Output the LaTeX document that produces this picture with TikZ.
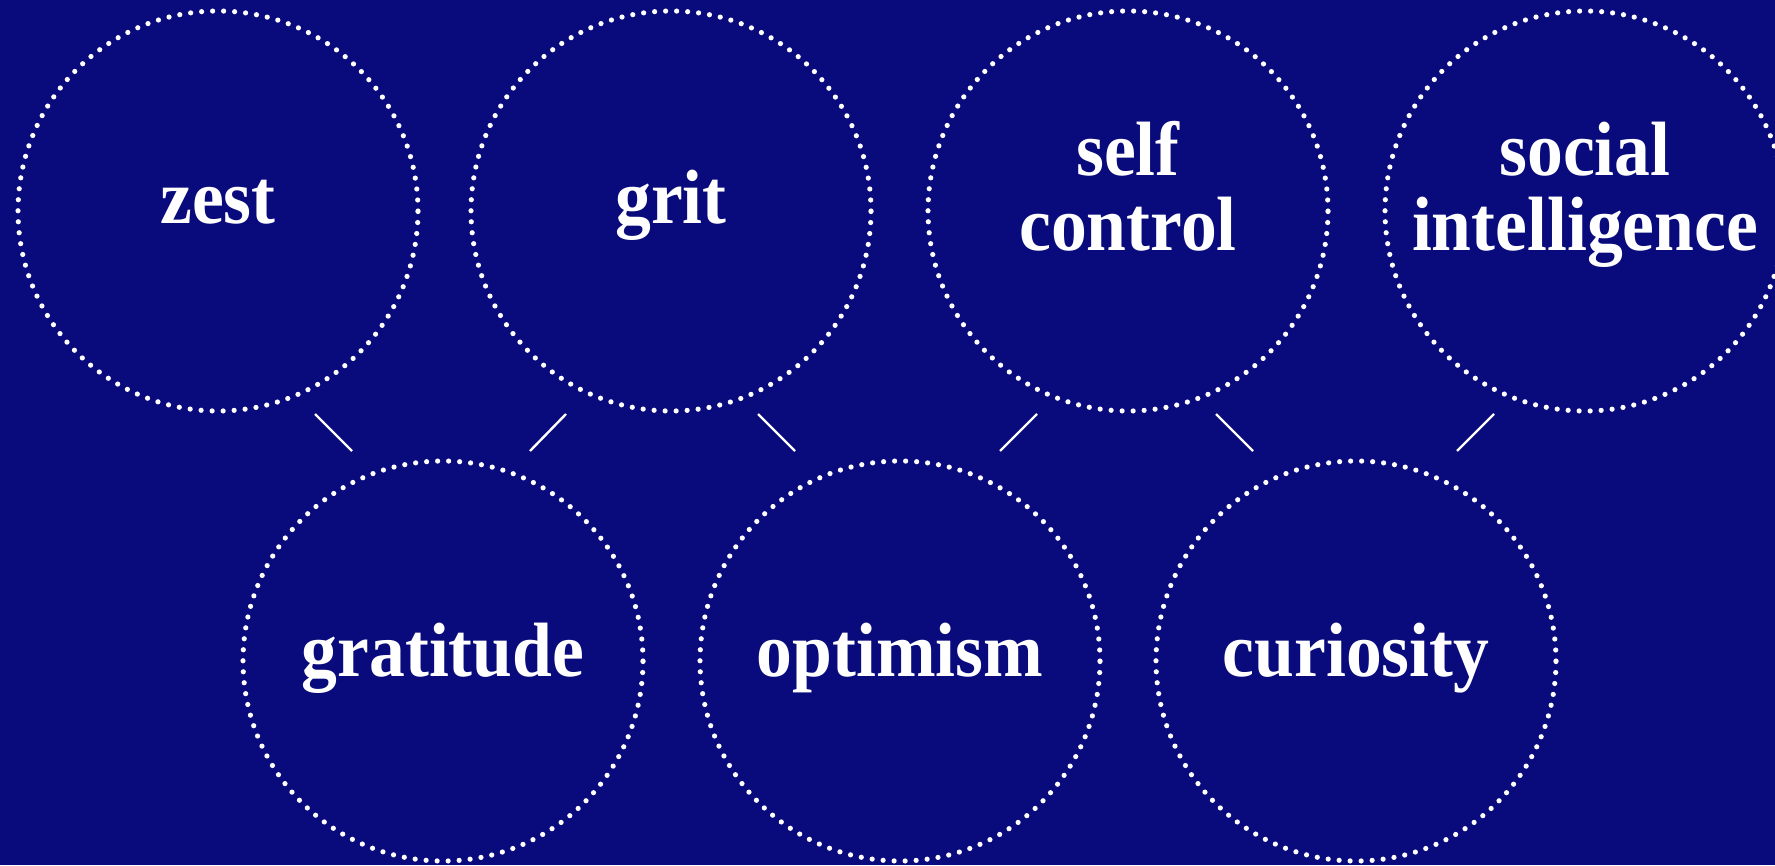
\documentclass[tikz,border=0pt]{standalone}
\usepackage{fontspec}
\newfontfamily\lblfont{Liberation Serif}[FakeStretch=0.93]
\definecolor{bgblue}{RGB}{9,11,124}
\tikzset{
  ring/.style={circle, minimum size=400pt, inner sep=0pt, draw=white, line width=5.2pt,
    line cap=round, dash pattern=on 0pt off 11.02pt},
  lbl/.style={text=white, anchor=base, inner sep=0pt, font=\lblfont\bfseries\fontsize{77}{75}\selectfont},
  link/.style={draw=white, line width=2.4pt}
}
\begin{document}
\begin{tikzpicture}[x=1pt,y=-1pt]
\useasboundingbox (0,0) rectangle (1775,865);
\clip (0,0) rectangle (1775,865);
\fill[bgblue] (0,0) rectangle (1775,865);
% top row
\node[ring] (zest) at (218,211) {};
\node[ring] (grit) at (671,211) {};
\node[ring] (self) at (1128,211) {};
\node[ring] (social) at (1585,211) {};
% bottom row
\node[ring] (grat) at (443,661) {};
\node[ring] (opt) at (900,661) {};
\node[ring] (cur) at (1356,661) {};
% labels
\node[lbl] (tzest) at (218,223) {zest};
\node[lbl] (tgrit) at (671,223) {grit};
\node[lbl] (tself1) at (1128,175) {self};
\node[lbl] (tself2) at (1128,250) {control};
\node[lbl] (tsoc1) at (1585,175) {social};
\node[lbl] (tsoc2) at (1585,250) {intelligence};
\node[lbl] (tgrat) at (443,676) {gratitude};
\node[lbl] (topt) at (900,676) {optimism};
\node[lbl] (tcur) at (1356,676) {curiosity};
% connectors
\coordinate (l1a) at (315,414); \coordinate (l1b) at (352,451);
\coordinate (l2a) at (530,451); \coordinate (l2b) at (566,414);
\coordinate (l3a) at (758,414); \coordinate (l3b) at (795,451);
\coordinate (l4a) at (1000,451); \coordinate (l4b) at (1037,414);
\coordinate (l5a) at (1216,414); \coordinate (l5b) at (1253,451);
\coordinate (l6a) at (1457,451); \coordinate (l6b) at (1494,414);
\draw[link] (l1a) -- (l1b);
\draw[link] (l2a) -- (l2b);
\draw[link] (l3a) -- (l3b);
\draw[link] (l4a) -- (l4b);
\draw[link] (l5a) -- (l5b);
\draw[link] (l6a) -- (l6b);
\end{tikzpicture}
\end{document}
